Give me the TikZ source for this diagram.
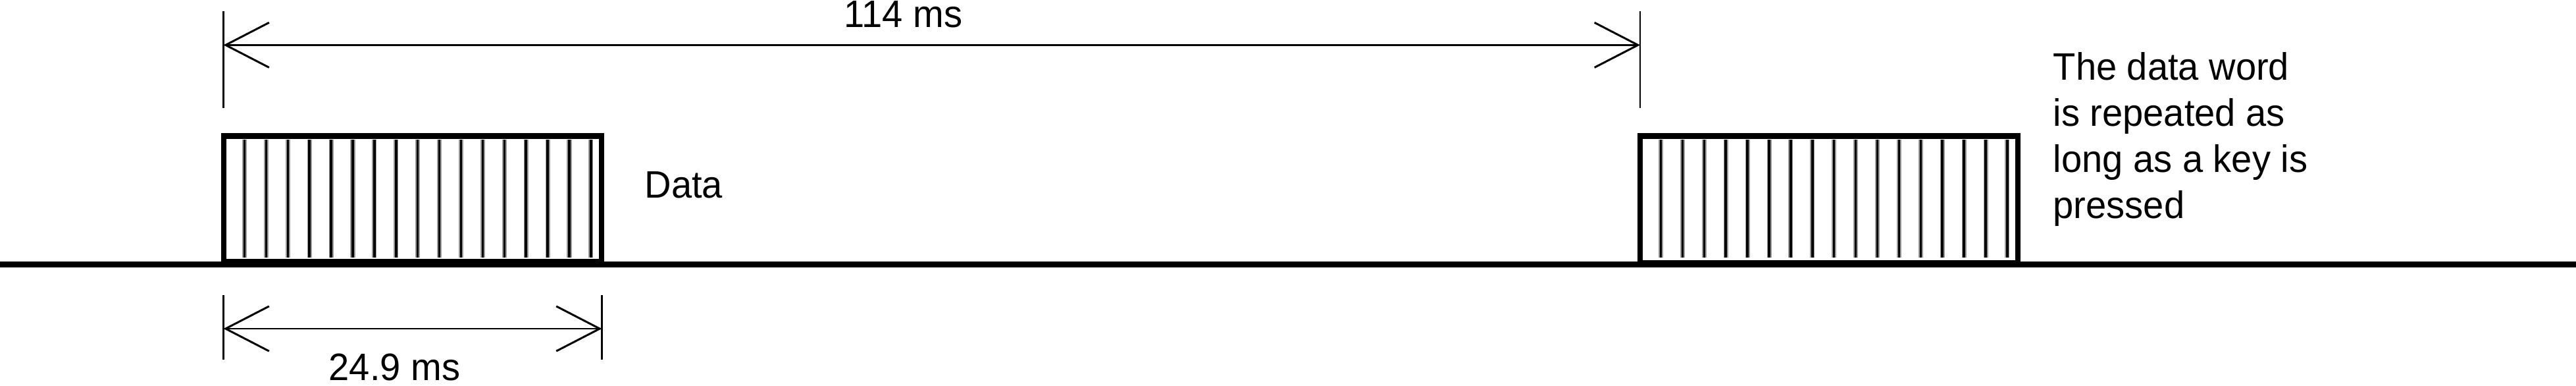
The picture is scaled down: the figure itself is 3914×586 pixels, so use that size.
\documentclass[tikz,border=0pt]{standalone}
\usepackage{fontspec}
\setmainfont{Liberation Sans}[FakeStretch=0.967]
\usetikzlibrary{arrows.meta}
\begin{document}
\begin{tikzpicture}[x=0.1mm,y=-0.1mm,
  dimline/.style={line width=0.85pt,
    {Straight Barb[length=18.8pt,width=19.4pt]}-{Straight Barb[length=18.8pt,width=19.4pt]}},
  tickline/.style={line width=0.8pt},
  frame/.style={line width=2.5pt},
  ground/.style={line width=2.45pt},
  stripehalo/.style={line width=2pt,black!40},
  stripecore/.style={line width=1pt,black},
  lbl/.style={inner sep=0pt,font=\fontsize{16.5}{19.9}\selectfont}]
\useasboundingbox (0,0) rectangle (3914,586);
% stripes of the two data words
\foreach \bx in {340,2492}{
  \foreach \i in {0,...,16}{
    \draw[stripehalo] ({\bx+31.5+32.9*\i},212) -- ({\bx+31.5+32.9*\i},391);
    \draw[stripecore] ({\bx+31.5+32.9*\i},212) -- ({\bx+31.5+32.9*\i},391);
  }
}
% ground line
\coordinate (g0) at (0,401.5);
\coordinate (g1) at (3914,401.5);
\draw[ground] (g0) -- (g1);
% data boxes
\draw[frame] (340,206.5) rectangle (914,397);
\draw[frame] (2492,206.5) rectangle (3066,399);
% top dimension 114 ms
\coordinate (ta1) at (339.5,17);  \coordinate (tb1) at (339.5,164);
\coordinate (ta2) at (2492,17);   \coordinate (tb2) at (2492,164);
\draw[tickline] (ta1) -- (tb1);
\draw[tickline] (ta2) -- (tb2);
\coordinate (d1) at (339.5,68.4);
\coordinate (d2) at (2492,68.4);
\draw[dimline] (d1) -- (d2);
\node[lbl,anchor=base west] (t114) at (1282,42) {114 ms};
% bottom dimension 24.9 ms
\coordinate (ba1) at (339.5,448);  \coordinate (bb1) at (339.5,546);
\coordinate (ba2) at (914.5,448);  \coordinate (bb2) at (914.5,546);
\draw[tickline] (ba1) -- (bb1);
\draw[tickline] (ba2) -- (bb2);
\coordinate (e1) at (339.5,499);
\coordinate (e2) at (914.5,499);
\draw[dimline] (e1) -- (e2);
\node[lbl,anchor=base west] (t249) at (499,577) {24.9 ms};
% labels
\node[lbl,anchor=base west] (data) at (979,300.5) {Data};
\node[lbl,anchor=north west,align=left] (note) at (3119,79)
  {The data word\\is repeated as\\long as a key is\\pressed};
\end{tikzpicture}
\end{document}
